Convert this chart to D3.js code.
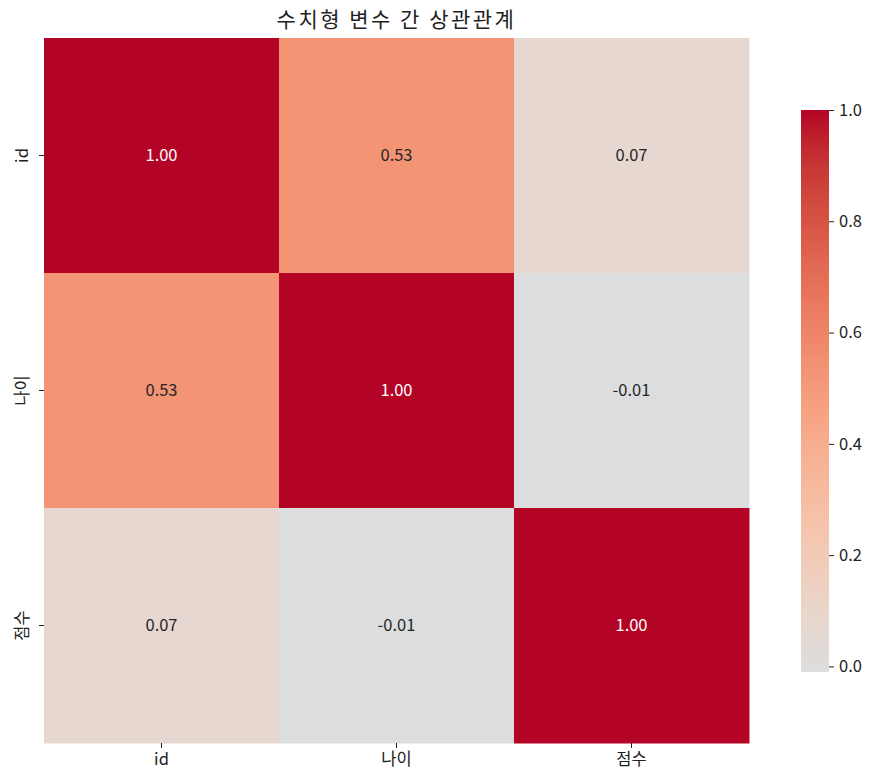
<!DOCTYPE html>
<html>
<head>
<meta charset="utf-8">
<script src="https://cdn.jsdelivr.net/npm/d3@7"></script>
<style>
  body { margin: 0; background: #fff; }
  text { font-family: "Noto Sans CJK KR", "Noto Sans", sans-serif; }
  .tick line { stroke: #222; }
  .tick text { fill: #222; font-size: 16.5px; }
</style>
</head>
<body>
<div id="chart"></div>
<script>
// variables and correlation values
var labels = ["id", "나이", "점수"];
var corr = [
    [1.00, 0.53, 0.07],
    [0.53, 1.00, -0.01],
    [0.07, -0.01, 1.00]
];
var cbarTicks = [0.0, 0.2, 0.4, 0.6, 0.8, 1.0];
var title = "수치형 변수 간 상관관계";

// coolwarm colormap control points (Moreland)
var coolwarm = [
    [59,76,192],[68,90,204],[77,104,215],[87,117,225],[98,130,234],[108,142,241],
    [119,154,247],[130,165,251],[141,176,254],[152,185,255],[163,194,255],[174,201,253],
    [184,208,249],[194,213,244],[204,217,238],[213,219,230],[221,221,221],[229,216,209],
    [236,211,197],[241,204,185],[245,196,173],[247,187,160],[247,177,148],[247,166,135],
    [244,154,123],[241,141,111],[236,127,99],[229,112,88],[222,96,77],[213,80,66],
    [203,62,56],[192,40,47],[180,4,38]
];

var svgWidth = 873;
var svgHeight = 784;

var margin = { top: 38, left: 44 };
var heatSize = 705;

var svg = d3.select("#chart")
    .append("svg")
    .attr("width", svgWidth)
    .attr("height", svgHeight);

// centered colormap: value -1..1 maps onto coolwarm, center = 0
var color = d3.scaleLinear()
    .domain(coolwarm.map((c, i) => -1 + 2 * i / (coolwarm.length - 1)))
    .range(coolwarm.map(c => d3.rgb(c[0], c[1], c[2])))
    .interpolate(d3.interpolateRgb)
    .clamp(true);

var x = d3.scaleBand().domain(labels).range([0, heatSize]);
var y = d3.scaleBand().domain(labels).range([0, heatSize]);

var g = svg.append("g")
    .attr("transform", `translate(${margin.left}, ${margin.top})`);

var cells = [];
corr.forEach(function(row, i) {
    row.forEach(function(v, j) {
        cells.push({ row: labels[i], col: labels[j], value: v });
    });
});

g.selectAll("rect.cell")
    .data(cells)
    .enter()
    .append("rect")
    .attr("class", "cell")
    .attr("x", d => x(d.col))
    .attr("y", d => y(d.row))
    .attr("width", x.bandwidth() + 0.5)
    .attr("height", y.bandwidth() + 0.5)
    .attr("fill", d => color(d.value));

// annotations, white on dark cells
g.selectAll("text.annot")
    .data(cells)
    .enter()
    .append("text")
    .attr("class", "annot")
    .attr("x", d => x(d.col) + x.bandwidth() / 2)
    .attr("y", d => y(d.row) + y.bandwidth() / 2)
    .attr("text-anchor", "middle")
    .attr("dy", "0.35em")
    .style("font-size", "16.5px")
    .attr("fill", function(d) {
        var c = d3.rgb(color(d.value));
        var lum = 0.2126 * c.r + 0.7152 * c.g + 0.0722 * c.b;
        return lum > 115 ? "#262626" : "#ffffff";
    })
    .text(d => d3.format(".2f")(d.value).replace("−", "-"));

// x axis
var xAxis = g.append("g")
    .attr("transform", `translate(0, ${heatSize})`)
    .call(d3.axisBottom(x).tickSize(5).tickPadding(5));
xAxis.select(".domain").remove();

// y axis with rotated labels
var yAxis = g.append("g")
    .call(d3.axisLeft(y).tickSize(5).tickPadding(5));
yAxis.select(".domain").remove();
yAxis.selectAll(".tick text")
    .attr("text-anchor", "middle")
    .attr("dy", "0")
    .attr("x", 0)
    .attr("transform", "translate(-16, 0) rotate(-90)");

// title
svg.append("text")
    .attr("x", margin.left + heatSize / 2)
    .attr("y", 27)
    .attr("text-anchor", "middle")
    .style("font-size", "21px")
    .style("letter-spacing", "2.5px")
    .attr("fill", "#222")
    .text(title);

// colorbar
var flat = corr.flat();
var vmin = d3.min(flat);
var vmax = d3.max(flat);
var cbar = { x: 801, top: 110, width: 28, height: 562 };

var cScale = d3.scaleLinear()
    .domain([vmin, vmax])
    .range([cbar.height, 0]);

var defs = svg.append("defs");
var grad = defs.append("linearGradient")
    .attr("id", "cbarGrad")
    .attr("x1", "0").attr("y1", "1")
    .attr("x2", "0").attr("y2", "0");
d3.range(0, 21).forEach(function(k) {
    var v = vmin + (vmax - vmin) * k / 20;
    grad.append("stop")
        .attr("offset", (k / 20 * 100) + "%")
        .attr("stop-color", color(v));
});

var cg = svg.append("g")
    .attr("transform", `translate(${cbar.x}, ${cbar.top})`);

cg.append("rect")
    .attr("width", cbar.width)
    .attr("height", cbar.height)
    .attr("fill", "url(#cbarGrad)");

var cAxis = cg.append("g")
    .attr("transform", `translate(${cbar.width}, 0)`)
    .call(d3.axisRight(cScale).tickValues(cbarTicks).tickFormat(d3.format(".1f")).tickSize(5).tickPadding(5));
cAxis.select(".domain").remove();
</script>
</body>
</html>
